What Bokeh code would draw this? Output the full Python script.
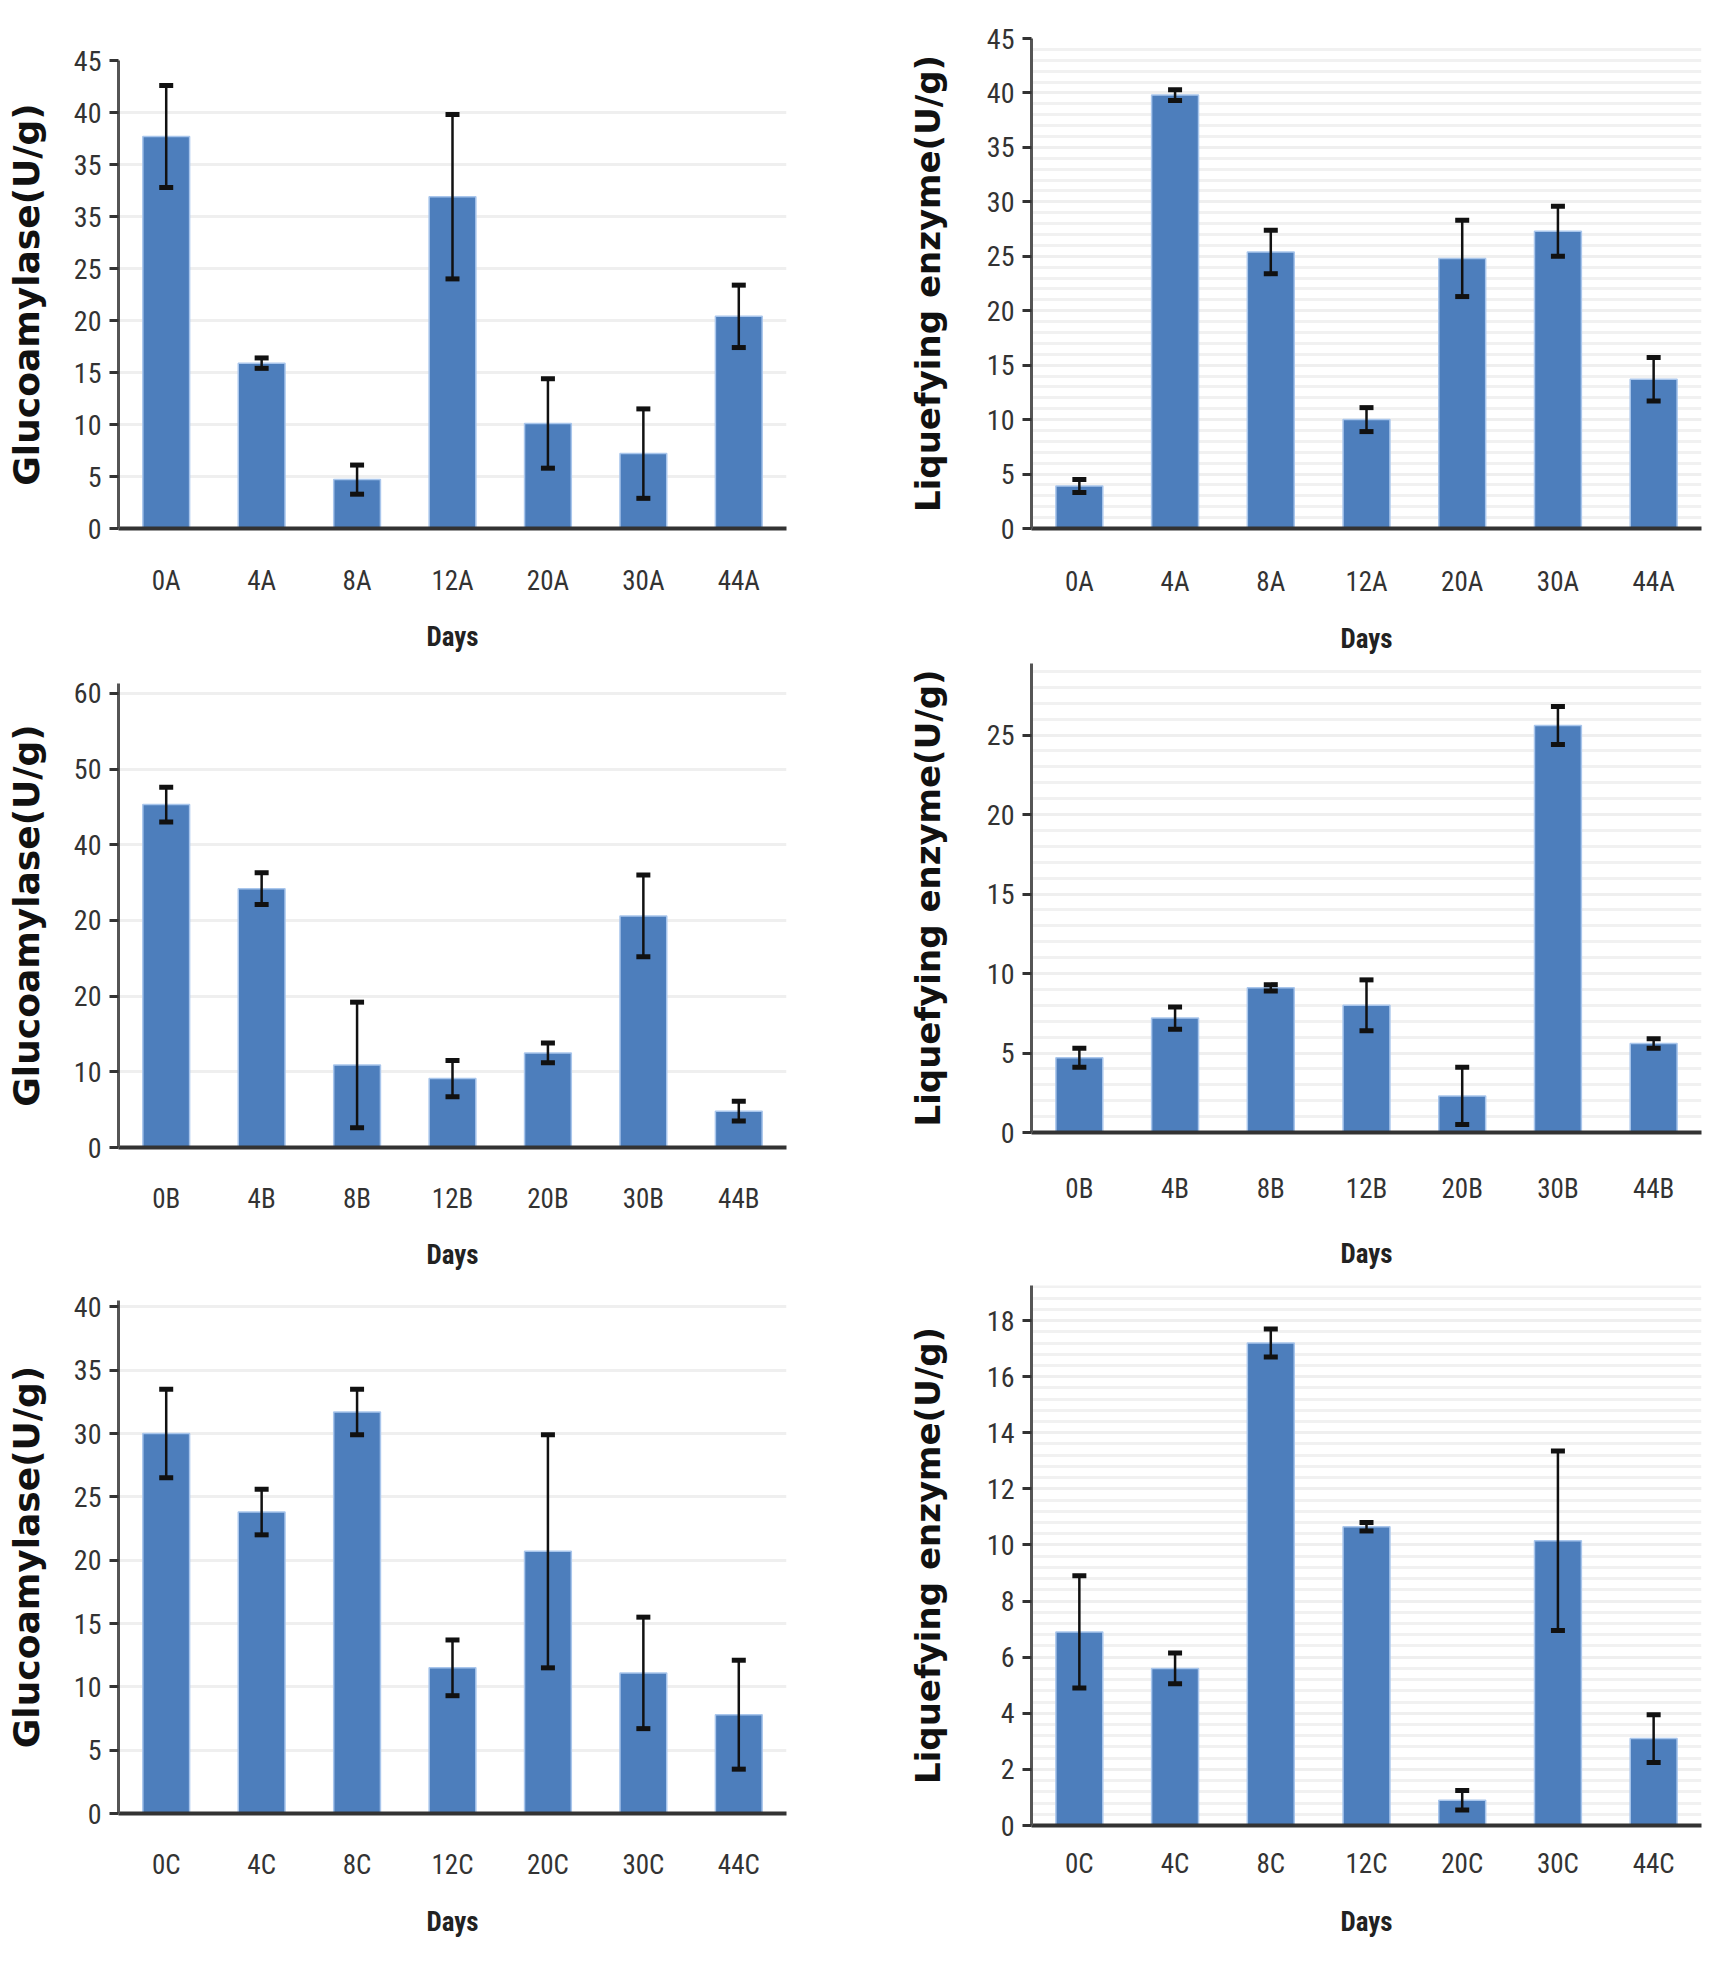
import numpy as np
from bokeh.plotting import figure
from bokeh.models import ColumnDataSource, Whisker, TeeHead, FixedTicker, FactorRange, Range1d
from bokeh.layouts import row, column
from bokeh.embed import file_html
from bokeh.resources import INLINE

# ---------------- data ----------------
cats_A = ["0A", "4A", "8A", "12A", "20A", "30A", "44A"]
cats_B = ["0B", "4B", "8B", "12B", "20B", "30B", "44B"]
cats_C = ["0C", "4C", "8C", "12C", "20C", "30C", "44C"]

gluco_A = [37.7, 15.9, 4.7, 31.9, 10.1, 7.2, 20.4]
gluco_A_err = [4.9, 0.5, 1.4, 7.9, 4.3, 4.3, 3.0]
liq_A = [3.9, 39.8, 25.4, 10.0, 24.8, 27.3, 13.7]
liq_A_err = [0.6, 0.5, 2.0, 1.1, 3.5, 2.3, 2.0]

gluco_B = [45.3, 34.2, 10.9, 9.1, 12.5, 30.6, 4.8]
gluco_B_err = [2.3, 2.1, 8.3, 2.4, 1.3, 5.4, 1.3]
liq_B = [4.7, 7.2, 9.1, 8.0, 2.3, 25.6, 5.6]
liq_B_err = [0.6, 0.7, 0.2, 1.6, 1.8, 1.2, 0.3]

gluco_C = [30.0, 23.8, 31.7, 11.5, 20.7, 11.1, 7.8]
gluco_C_err = [3.5, 1.8, 1.8, 2.2, 9.2, 4.4, 4.3]
liq_C = [6.9, 5.6, 17.2, 10.65, 0.9, 10.15, 3.1]
liq_C_err = [2.0, 0.55, 0.5, 0.15, 0.35, 3.2, 0.85]

# y tick values and their printed labels (as printed in the source figure)
ticks_gA = [0, 5, 10, 15, 20, 25, 30, 35, 40, 45]
labels_gA = ["0", "5", "10", "15", "20", "25", "35", "35", "40", "45"]
ticks_gB = [0, 10, 20, 30, 40, 50, 60]
labels_gB = ["0", "10", "20", "20", "40", "50", "60"]
ticks_gC = [0, 5, 10, 15, 20, 25, 30, 35, 40]
labels_gC = ["0", "5", "10", "15", "20", "25", "30", "35", "40"]
ticks_lA = [0, 5, 10, 15, 20, 25, 30, 35, 40, 45]
ticks_lB = [0, 5, 10, 15, 20, 25]
ticks_lC = [0, 2, 4, 6, 8, 10, 12, 14, 16, 18]

G_TITLE = "Glucoamylase(U/g)"
L_TITLE = "Liquefying enzyme(U/g)"
X_TITLE = "Days"

NARROW = "Liberation Sans Narrow, Roboto Condensed, DejaVu Sans Condensed, Liberation Sans, sans-serif"
BAR = "#4d7ebc"


def panel(cats, vals, errs, ytitle, y_end, ticks, labels, minor, w, h, mb,
          xl_stand, days_stand, ttl_stand, ttl_size):
    lo = [v - e for v, e in zip(vals, errs)]
    hi = [v + e for v, e in zip(vals, errs)]
    src = ColumnDataSource(dict(cat=cats, val=vals, lo=lo, hi=hi))
    p = figure(x_range=FactorRange(*cats), y_range=Range1d(0, y_end),
               width=w, height=h, output_backend="svg", toolbar_location=None,
               min_border_left=mb[0], min_border_right=mb[1],
               min_border_top=mb[2], min_border_bottom=mb[3])
    p.outline_line_color = None
    p.background_fill_color = "white"
    p.xgrid.grid_line_color = None
    p.ygrid.grid_line_color = "#efefef"
    p.ygrid.grid_line_width = 3
    if minor is not None:
        p.ygrid.minor_grid_line_color = "#f1f1f1"
        p.ygrid.minor_grid_line_width = 3

    p.vbar(x="cat", top="val", width=0.49, source=src, fill_color=BAR,
           line_color="#a9c6ec", line_width=1.5)
    wh = Whisker(base="cat", upper="hi", lower="lo", source=src,
                 line_color="#111111", line_width=2.5, level="overlay",
                 upper_head=TeeHead(size=14, line_width=5, line_color="#111111"),
                 lower_head=TeeHead(size=14, line_width=5, line_color="#111111"))
    p.add_layout(wh)

    # y axis
    ya = p.yaxis[0]
    if minor is not None:
        ya.ticker = FixedTicker(ticks=ticks, minor_ticks=minor)
    else:
        ya.ticker = FixedTicker(ticks=ticks)
    ya.major_label_overrides = {t: l for t, l in zip(ticks, labels)}
    ya.axis_line_color = "#555555"
    ya.axis_line_width = 3
    ya.major_tick_line_color = "#333333"
    ya.major_tick_line_width = 3
    ya.major_tick_out = 9
    ya.major_tick_in = 0
    ya.minor_tick_line_color = None
    ya.minor_tick_out = 0
    ya.minor_tick_in = 0
    ya.major_label_standoff = 8
    ya.major_label_text_font = NARROW
    ya.major_label_text_font_size = "28px"
    ya.major_label_text_color = "#333333"
    ya.axis_label = ytitle
    ya.axis_label_text_font = "DejaVu Sans"
    ya.axis_label_text_font_style = "bold"
    ya.axis_label_text_font_size = ttl_size
    ya.axis_label_text_color = "#111111"
    ya.axis_label_standoff = ttl_stand

    # x axis
    xa = p.xaxis[0]
    xa.axis_line_color = "#333333"
    xa.axis_line_width = 4
    xa.major_tick_line_color = None
    xa.minor_tick_line_color = None
    xa.major_tick_out = 0
    xa.major_tick_in = 0
    xa.minor_tick_out = 0
    xa.minor_tick_in = 0
    xa.major_label_standoff = xl_stand
    xa.major_label_text_font = NARROW
    xa.major_label_text_font_size = "27px"
    xa.major_label_text_color = "#333333"
    xa.axis_label = X_TITLE
    xa.axis_label_text_font = NARROW
    xa.axis_label_text_font_style = "bold"
    xa.axis_label_text_font_size = "27px"
    xa.axis_label_text_color = "#222222"
    xa.axis_label_standoff = days_stand
    return p


WL, WR = 866, 848
tl = panel(cats_A, gluco_A, gluco_A_err, G_TITLE, 45, ticks_gA, labels_gA, None,
           WL, 668, (118, 80, 60, 140), 36, 21, 24, "36px")
ml = panel(cats_B, gluco_B, gluco_B_err, G_TITLE, 61.3, ticks_gB, labels_gB, None,
           WL, 612, (118, 80, 15, 133), 35, 21, 24, "36px")
bl = panel(cats_C, gluco_C, gluco_C_err, G_TITLE, 40.5, ticks_gC, labels_gC, None,
           WL, 671, (118, 80, 20, 138), 35, 22, 24, "36px")

tr = panel(cats_A, liq_A, liq_A_err, L_TITLE, 45, ticks_lA, [str(t) for t in ticks_lA],
           list(np.arange(0, 46, 1)), WR, 658, (165, 13, 38, 130), 37, 22, 36, "34px")
mr = panel(cats_B, liq_B, liq_B_err, L_TITLE, 29.5, ticks_lB, [str(t) for t in ticks_lB],
           list(np.arange(0, 30, 1)), WR, 616, (165, 13, 5, 142), 40, 30, 36, "34px")
br = panel(cats_C, liq_C, liq_C_err, L_TITLE, 19.25, ticks_lC, [str(t) for t in ticks_lC],
           [round(v, 1) for v in np.arange(0, 19.3, 0.4)], WR, 677, (165, 13, 11, 126), 22, 23, 36, "34px")

layout = row(column(tl, ml, bl), column(tr, mr, br))
open("out.html", "w").write(file_html(layout, INLINE))
